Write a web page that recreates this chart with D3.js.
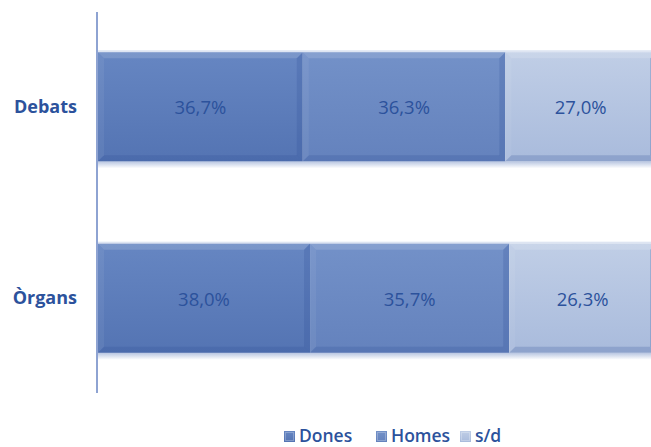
<!DOCTYPE html>
<html>
<head>
<meta charset="utf-8">
<script src="https://cdn.jsdelivr.net/npm/d3@7"></script>
<style>
  html, body { margin: 0; padding: 0; background: #fff; }
  svg { display: block; }
  text { font-family: "Open Sans", Lato, sans-serif; }
</style>
</head>
<body>
<svg id="chart" width="651" height="447"></svg>
<script>
// Share of participation by sex (percent), one stacked bar per category
const categories = ["Debats", "Òrgans"];
const series = ["Dones", "Homes", "s/d"];
const dones = [36.7, 38.0];
const homes = [36.3, 35.7];
const sd = [27.0, 26.3];

const colors = {
  "Dones": ["#6686c2", "#5474b3"],
  "Homes": ["#7391c8", "#6482bd"],
  "s/d":   ["#c0cee6", "#a9bbdc"]
};
const textColor = "#2c529c";

const rows = categories.map((c, i) => ({ cat: c, "Dones": dones[i], "Homes": homes[i], "s/d": sd[i] }));
const stack = d3.stack().keys(series)(rows);

const svg = d3.select("#chart");

const x = d3.scaleLinear().domain([0, 100]).range([98, 656]);
const y = d3.scaleBand().domain(categories).range([12, 393]).paddingInner(0.43).paddingOuter(0.21);

const defs = svg.append("defs");
series.forEach((s, i) => {
  const g = defs.append("linearGradient").attr("id", "g" + i)
    .attr("x1", 0).attr("y1", 0).attr("x2", 0).attr("y2", 1);
  g.append("stop").attr("offset", "0%").attr("stop-color", colors[s][0]);
  g.append("stop").attr("offset", "100%").attr("stop-color", colors[s][1]);
});
const sh = defs.append("linearGradient").attr("id", "shadow")
  .attr("x1", 0).attr("y1", 0).attr("x2", 0).attr("y2", 1);
sh.append("stop").attr("offset", "0%").attr("stop-color", "#7d96c8").attr("stop-opacity", 0.55);
sh.append("stop").attr("offset", "100%").attr("stop-color", "#7d96c8").attr("stop-opacity", 0);

// soft shadow under each bar
svg.append("g").selectAll("rect").data(categories).join("rect")
  .attr("x", x(0)).attr("y", d => y(d) + y.bandwidth())
  .attr("width", x(100) - x(0)).attr("height", 7)
  .attr("fill", "url(#shadow)");

// faint glow above each bar
svg.append("g").selectAll("rect").data(categories).join("rect")
  .attr("x", x(0)).attr("y", d => y(d) - 2)
  .attr("width", x(100) - x(0)).attr("height", 2)
  .attr("fill", "#c8d3ea").attr("opacity", 0.6);

const b = 6; // bevel depth
const layers = svg.append("g").selectAll("g").data(stack).join("g");

layers.each(function(layer, li) {
  const g = d3.select(this);
  layer.forEach((d) => {
    const x0 = x(d[0]), x1 = x(d[1]);
    const y0 = y(d.data.cat), y1 = y0 + y.bandwidth();
    g.append("rect").attr("x", x0).attr("y", y0).attr("width", x1 - x0).attr("height", y1 - y0)
      .attr("fill", `url(#g${li})`);
    const poly = (pts, fill, op) => g.append("polygon")
      .attr("points", pts.map(p => p.join(",")).join(" "))
      .attr("fill", fill).attr("opacity", op);
    poly([[x0, y0], [x1, y0], [x1 - b, y0 + b], [x0 + b, y0 + b]], "#ffffff", 0.14);
    poly([[x0, y1], [x1, y1], [x1 - b, y1 - b], [x0 + b, y1 - b]], "#2c4f94", 0.22);
    poly([[x0, y0], [x0 + b, y0 + b], [x0 + b, y1 - b], [x0, y1]], "#ffffff", 0.06);
    poly([[x1, y0], [x1 - b, y0 + b], [x1 - b, y1 - b], [x1, y1]], "#2c4f94", 0.22);
    g.append("text")
      .attr("x", (x0 + x1) / 2).attr("y", (y0 + y1) / 2)
      .attr("text-anchor", "middle").attr("dominant-baseline", "central")
      .attr("font-size", 18.5).attr("fill", textColor)
      .text(d3.format(".1f")(d[1] - d[0]).replace(".", ",") + "%");
  });
});

// vertical category axis
const axis = svg.append("g").attr("transform", "translate(97,0)")
  .call(d3.axisLeft(y).tickSize(0).tickPadding(20));
axis.select(".domain").attr("stroke", "#8ea3d2").attr("stroke-width", 2)
  .attr("d", "M0,12V393");
axis.selectAll(".tick text").attr("font-size", 18).attr("font-weight", "bold")
  .attr("fill", textColor).attr("font-family", "'Open Sans', sans-serif");

// legend
const legendX = [284, 376, 460];
const lg = svg.append("g").selectAll("g").data(series).join("g")
  .attr("transform", (d, i) => `translate(${legendX[i]},435)`);
lg.append("rect").attr("x", 0).attr("y", -4).attr("width", 11).attr("height", 11)
  .attr("fill", (d, i) => `url(#g${i})`);
lg.append("rect").attr("x", 1.5).attr("y", -2.5).attr("width", 8).attr("height", 8)
  .attr("fill", "none").attr("stroke", "#ffffff").attr("stroke-opacity", 0.25);
lg.append("text").attr("x", 15).attr("y", 0).attr("dominant-baseline", "central")
  .attr("font-size", 17.5).attr("font-weight", 600).attr("fill", textColor).text(d => d);
</script>
</body>
</html>
